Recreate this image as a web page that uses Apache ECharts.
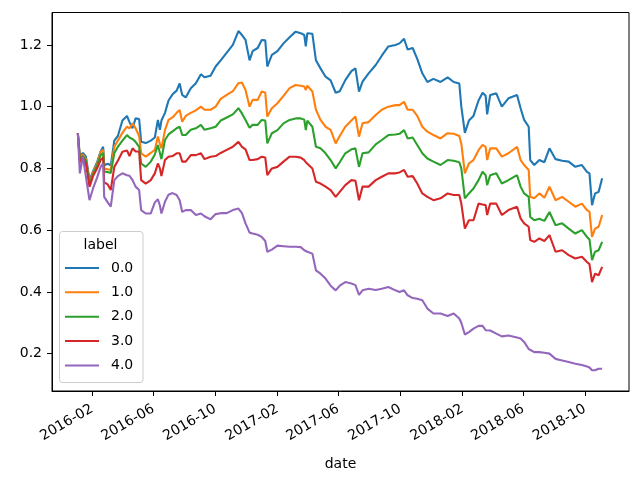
<!DOCTYPE html>
<html>
<head>
<meta charset="utf-8">
<script src="https://cdn.jsdelivr.net/npm/echarts@6/dist/echarts.min.js"></script>
<style>
html,body{margin:0;padding:0;background:#fff;}
#chart{width:636px;height:477px;}
</style>
</head>
<body>
<div id="chart"></div>
<script>
const dates = [
'2016-01-04','2016-01-08','2016-01-14','2016-01-20','2016-01-27','2016-02-03','2016-02-11','2016-02-18','2016-02-23','2016-02-25',
'2016-03-03','2016-03-09','2016-03-16','2016-03-23','2016-04-01','2016-04-10','2016-04-15','2016-04-21','2016-04-27','2016-05-04',
'2016-05-08','2016-05-17','2016-05-27','2016-06-04','2016-06-10','2016-06-14','2016-06-17','2016-06-24','2016-07-01','2016-07-09',
'2016-07-17','2016-07-23','2016-07-28','2016-08-04','2016-08-14','2016-08-24','2016-09-03','2016-09-10','2016-09-22','2016-10-02',
'2016-10-12','2016-10-24','2016-11-05','2016-11-16','2016-11-23','2016-11-30','2016-12-08','2016-12-14','2016-12-24','2017-01-01',
'2017-01-08','2017-01-12','2017-01-21','2017-02-01','2017-02-13','2017-02-25','2017-03-09','2017-03-19','2017-03-26','2017-03-29',
'2017-04-01','2017-04-11','2017-04-18','2017-04-27','2017-05-07','2017-05-17','2017-05-27','2017-06-04','2017-06-15','2017-06-27',
'2017-07-05','2017-07-12','2017-07-19','2017-07-31','2017-08-14','2017-08-26','2017-09-08','2017-09-22','2017-09-30','2017-10-09',
'2017-10-16','2017-10-26','2017-11-04','2017-11-14','2017-11-24','2017-12-06','2017-12-20','2018-01-03','2018-01-15','2018-01-26',
'2018-01-30','2018-02-06','2018-02-14','2018-02-23','2018-03-05','2018-03-13','2018-03-19','2018-03-22','2018-03-28','2018-04-09',
'2018-04-20','2018-05-03','2018-05-20','2018-05-27','2018-06-03','2018-06-12','2018-06-15','2018-06-23','2018-07-03','2018-07-13',
'2018-07-23','2018-08-04','2018-08-17','2018-08-30','2018-09-12','2018-09-25','2018-10-05','2018-10-10','2018-10-15','2018-10-21',
'2018-10-28','2018-11-04'
];

const label0 = [
0.914,0.84,0.85,0.838,0.762,0.79,0.82,0.855,0.87,0.81,
0.815,0.81,0.89,0.905,0.955,0.97,0.95,0.93,0.962,0.96,
0.886,0.882,0.89,0.9,0.957,0.925,0.955,0.98,1.02,1.04,
1.052,1.075,1.038,1.03,1.06,1.076,1.105,1.095,1.1,1.13,
1.15,1.175,1.2,1.245,1.232,1.216,1.15,1.18,1.19,1.216,
1.215,1.13,1.168,1.18,1.205,1.225,1.243,1.238,1.232,1.195,
1.238,1.236,1.15,1.124,1.097,1.085,1.045,1.05,1.086,1.115,
1.124,1.049,1.081,1.108,1.135,1.165,1.195,1.2,1.205,1.22,
1.185,1.19,1.155,1.108,1.08,1.09,1.08,1.095,1.08,1.075,
1.0,0.915,0.955,0.97,1.02,1.045,1.035,0.975,1.038,1.043,
1.0,1.027,1.038,0.995,0.957,0.935,0.827,0.811,0.827,0.82,
0.865,0.83,0.825,0.822,0.805,0.811,0.789,0.784,0.681,0.719,
0.724,0.768
];
const label1 = [
0.914,0.835,0.845,0.83,0.755,0.785,0.815,0.854,0.86,0.8,
0.797,0.795,0.87,0.89,0.915,0.935,0.93,0.946,0.93,0.905,
0.849,0.838,0.85,0.86,0.903,0.88,0.865,0.924,0.957,0.965,
0.98,0.989,0.951,0.97,0.98,0.988,1.0,0.99,0.99,1.0,
1.025,1.038,1.05,1.076,1.078,1.054,1.0,1.022,1.022,1.049,
1.045,0.968,0.995,1.011,1.035,1.06,1.07,1.068,1.065,1.054,
1.068,1.049,0.99,0.957,0.935,0.925,0.881,0.905,0.935,0.955,
0.968,0.903,0.946,0.95,0.973,0.99,1.0,1.005,1.005,1.016,
0.99,0.99,0.97,0.935,0.919,0.908,0.897,0.914,0.912,0.905,
0.88,0.784,0.816,0.827,0.859,0.876,0.87,0.827,0.865,0.865,
0.838,0.849,0.87,0.827,0.811,0.795,0.708,0.703,0.719,0.705,
0.741,0.697,0.708,0.692,0.676,0.686,0.665,0.66,0.578,0.605,
0.611,0.649
];
const label2 = [
0.914,0.83,0.84,0.825,0.75,0.78,0.81,0.843,0.85,0.79,
0.788,0.785,0.849,0.87,0.89,0.908,0.9,0.895,0.886,0.87,
0.816,0.805,0.822,0.845,0.876,0.85,0.83,0.892,0.91,0.92,
0.93,0.935,0.908,0.908,0.925,0.93,0.941,0.925,0.93,0.935,
0.955,0.965,0.975,0.995,0.978,0.957,0.932,0.941,0.941,0.957,
0.955,0.881,0.914,0.924,0.946,0.957,0.962,0.962,0.958,0.924,
0.955,0.935,0.87,0.865,0.849,0.827,0.8,0.82,0.849,0.862,
0.865,0.805,0.849,0.852,0.878,0.892,0.908,0.91,0.912,0.924,
0.897,0.9,0.876,0.849,0.832,0.822,0.811,0.827,0.825,0.82,
0.8,0.703,0.719,0.735,0.762,0.789,0.778,0.746,0.778,0.784,
0.751,0.762,0.778,0.741,0.719,0.708,0.643,0.632,0.637,0.63,
0.659,0.616,0.622,0.605,0.589,0.6,0.578,0.57,0.503,0.53,
0.535,0.562
];
const label3 = [
0.914,0.82,0.835,0.815,0.74,0.775,0.8,0.827,0.835,0.755,
0.748,0.73,0.805,0.825,0.854,0.858,0.84,0.865,0.855,0.855,
0.762,0.751,0.762,0.784,0.816,0.8,0.775,0.827,0.838,0.84,
0.849,0.849,0.822,0.822,0.843,0.843,0.849,0.83,0.838,0.84,
0.85,0.86,0.87,0.886,0.87,0.862,0.827,0.827,0.83,0.838,
0.835,0.778,0.8,0.805,0.822,0.838,0.838,0.835,0.827,0.82,
0.823,0.8,0.757,0.751,0.741,0.73,0.708,0.724,0.746,0.762,
0.76,0.697,0.741,0.741,0.762,0.773,0.784,0.784,0.787,0.795,
0.773,0.775,0.751,0.719,0.708,0.697,0.703,0.719,0.714,0.714,
0.686,0.605,0.632,0.632,0.686,0.683,0.681,0.649,0.686,0.686,
0.649,0.665,0.676,0.638,0.622,0.611,0.568,0.562,0.573,0.565,
0.584,0.53,0.535,0.519,0.508,0.514,0.497,0.49,0.432,0.459,
0.454,0.481
];
const label4 = [
0.914,0.784,0.838,0.773,0.697,0.735,0.77,0.805,0.816,0.708,
0.69,0.676,0.762,0.775,0.784,0.778,0.776,0.762,0.741,0.73,
0.665,0.654,0.654,0.69,0.7,0.68,0.654,0.692,0.715,0.72,
0.714,0.697,0.659,0.665,0.665,0.649,0.654,0.645,0.635,0.652,
0.655,0.655,0.665,0.67,0.655,0.622,0.592,0.589,0.585,0.578,
0.565,0.53,0.537,0.55,0.548,0.546,0.546,0.545,0.535,0.532,
0.53,0.524,0.47,0.459,0.443,0.42,0.405,0.42,0.432,0.427,
0.422,0.39,0.405,0.41,0.406,0.41,0.416,0.405,0.4,0.405,
0.389,0.38,0.378,0.373,0.346,0.33,0.33,0.322,0.33,0.314,
0.3,0.262,0.27,0.281,0.29,0.29,0.276,0.28,0.275,0.265,
0.256,0.259,0.252,0.249,0.238,0.215,0.21,0.205,0.205,0.203,
0.2,0.183,0.178,0.173,0.167,0.163,0.158,0.155,0.146,0.146,
0.151,0.151
];

const seriesNames = ['0.0','1.0','2.0','3.0','4.0'];
const seriesValues = [label0, label1, label2, label3, label4];
const xTickLabels = ['2016-02','2016-06','2016-10','2017-02','2017-06','2017-10','2018-02','2018-06','2018-10'];
const yTickValues = [0.2,0.4,0.6,0.8,1.0,1.2];
const colors = ['#1f77b4','#ff7f0e','#2ca02c','#d62728','#9467bd'];

function dayTs(s){ const p = s.split('-').map(Number); return Date.UTC(p[0], p[1]-1, p[2]||1); }
function fmtMonth(v){ const d = new Date(v); return d.getUTCFullYear()+'-'+String(d.getUTCMonth()+1).padStart(2,'0'); }
const xTicks = xTickLabels.map(dayTs);
const font = 'DejaVu Sans';

const chart = echarts.init(document.getElementById('chart'), null, {renderer:'canvas'});
chart.setOption({
  backgroundColor:'#fff',
  animation:false,
  grid:{left:52, right:7, top:12.5, bottom:86, show:true, borderColor:'#000', borderWidth:1, backgroundColor:'transparent'},
  xAxis:{
    type:'value',
    min: dayTs('2015-11-14'),
    max: dayTs('2018-12-27'),
    name:'date', nameLocation:'middle', nameGap:66,
    nameTextStyle:{fontFamily:font, fontSize:14, color:'#000'},
    axisLine:{show:true, lineStyle:{color:'#000', width:1}},
    axisTick:{show:true, length:5, lineStyle:{color:'#000', width:1}, customValues:xTicks},
    axisLabel:{rotate:30, margin:17, fontFamily:font, fontSize:14, color:'#000', customValues:xTicks,
      formatter:function(v){ return fmtMonth(v); }},
    splitLine:{show:false}
  },
  yAxis:{
    type:'value', min:0.079, max:1.305,
    axisLine:{show:true, lineStyle:{color:'#000', width:1}},
    axisTick:{show:true, length:5, lineStyle:{color:'#000', width:1}, customValues:yTickValues},
    axisLabel:{margin:10, fontFamily:font, fontSize:14, color:'#000', customValues:yTickValues,
      formatter:function(v){ return Number(v).toFixed(1); }},
    splitLine:{show:false}
  },
  legend:{
    data:seriesNames, orient:'vertical', left:65, top:260, padding:0, z:6,
    icon:'rect', itemWidth:34, itemHeight:2, itemGap:8.35,
    textStyle:{fontFamily:font, fontSize:14, color:'#000', lineHeight:16, padding:[0,0,0,7]}
  },
  graphic:[
    {type:'rect', z:5, shape:{x:59.5, y:231.5, width:83.5, height:151, r:3},
      style:{fill:'rgba(255,255,255,0.8)', stroke:'#cccccc', lineWidth:1}},
    {type:'text', z:6, x:100.5, y:245, style:{text:'label', fontFamily:font, fontSize:14, fill:'#000', align:'center', verticalAlign:'middle'}}
  ],
  series: seriesNames.map(function(n,k){
    return {name:n, type:'line', symbol:'none', showSymbol:false, color:colors[k],
      lineStyle:{width:2.1, color:colors[k]},
      data: dates.map(function(d,i){ return [dayTs(d), seriesValues[k][i]]; })};
  })
});
</script>
</body>
</html>
